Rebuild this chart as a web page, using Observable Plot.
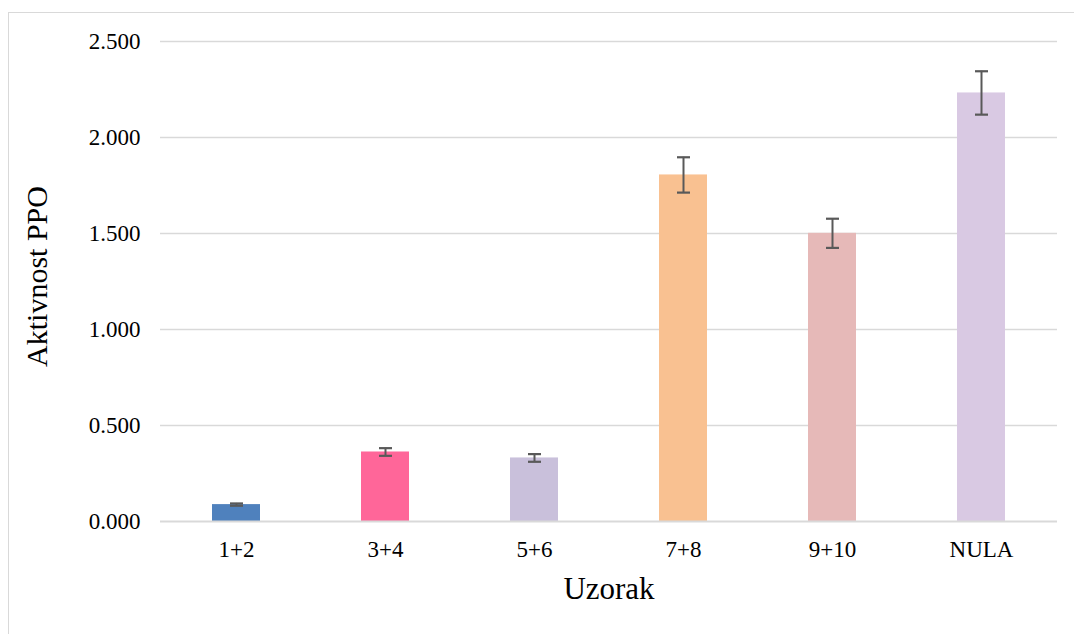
<!DOCTYPE html>
<html>
<head>
<meta charset="utf-8">
<script src="https://cdn.jsdelivr.net/npm/d3@7"></script>
<script src="https://cdn.jsdelivr.net/npm/@observablehq/plot@0.6"></script>
<style>
  html, body { margin: 0; padding: 0; background: #fff; }
  #wrap { position: relative; width: 1074px; height: 634px; overflow: hidden; }
  #border { position: absolute; left: 8px; top: 12px; width: 1080px; height: 640px; border: 1.5px solid #d9d9d9; box-sizing: border-box; }
  #chart { position: absolute; left: 0; top: 0; }
</style>
</head>
<body>
<div id="wrap"><div id="border"></div><div id="chart"></div></div>
<script>
const categories = ["1+2", "3+4", "5+6", "7+8", "9+10", "NULA"];
const values = [0.088, 0.362, 0.331, 1.805, 1.501, 2.232];
const errors = [0.006, 0.020, 0.020, 0.092, 0.076, 0.113];
const colors = ["#4F81BD", "#FF6699", "#C9C0DB", "#F9C191", "#E6B9B8", "#D9C9E3"];
const yTicks = [0, 0.5, 1, 1.5, 2, 2.5];

const data = categories.map((c, i) => ({cat: c, v: values[i], e: errors[i], color: colors[i]}));

const W = 1074, H = 634;
const mL = 160, mR = 17, mT = 41, mB = 113;

const capSymbol = {
  draw(context, size) {
    context.moveTo(-6.5, 0);
    context.lineTo(6.5, 0);
  }
};

const chart = Plot.plot({
  width: W,
  height: H,
  marginLeft: mL,
  marginRight: mR,
  marginTop: mT,
  marginBottom: mB,
  style: {fontFamily: "'Liberation Serif', 'Times New Roman', serif", background: "transparent", color: "#000"},
  x: {domain: categories, paddingInner: 0.68, paddingOuter: 0.34, align: 0.5, label: null},
  y: {domain: [0, 2.5], label: null},
  marks: [
    Plot.ruleY(yTicks.filter(d => d > 0), {stroke: "#d9d9d9", strokeWidth: 1.5}),
    Plot.barY(data, {x: "cat", y: "v", fill: "color"}),
    Plot.ruleY([0], {stroke: "#d9d9d9", strokeWidth: 2}),
    Plot.ruleX(data, {x: "cat", y1: d => d.v - d.e, y2: d => d.v + d.e, stroke: "#595959", strokeWidth: 2}),
    Plot.dot(data, {x: "cat", y: d => d.v + d.e, symbol: capSymbol, stroke: "#595959", strokeWidth: 2.2, fill: "none"}),
    Plot.dot(data, {x: "cat", y: d => d.v - d.e, symbol: capSymbol, stroke: "#595959", strokeWidth: 2.2, fill: "none"}),
    Plot.axisY({ticks: yTicks, tickFormat: d => d.toFixed(3), tickSize: 0, tickPadding: 20, fontSize: 23, label: null}),
    Plot.axisX({tickSize: 0, tickPadding: 19, fontSize: 23, label: null}),
    Plot.text(["Aktivnost PPO"], {frameAnchor: "left", textAnchor: "middle", rotate: -90, dx: -123, dy: -5, fontSize: 30, fill: "#000"}),
    Plot.text(["Uzorak"], {frameAnchor: "bottom", dy: 77, fontSize: 31, fill: "#000"})
  ]
});
document.getElementById("chart").appendChild(chart);
</script>
</body>
</html>
